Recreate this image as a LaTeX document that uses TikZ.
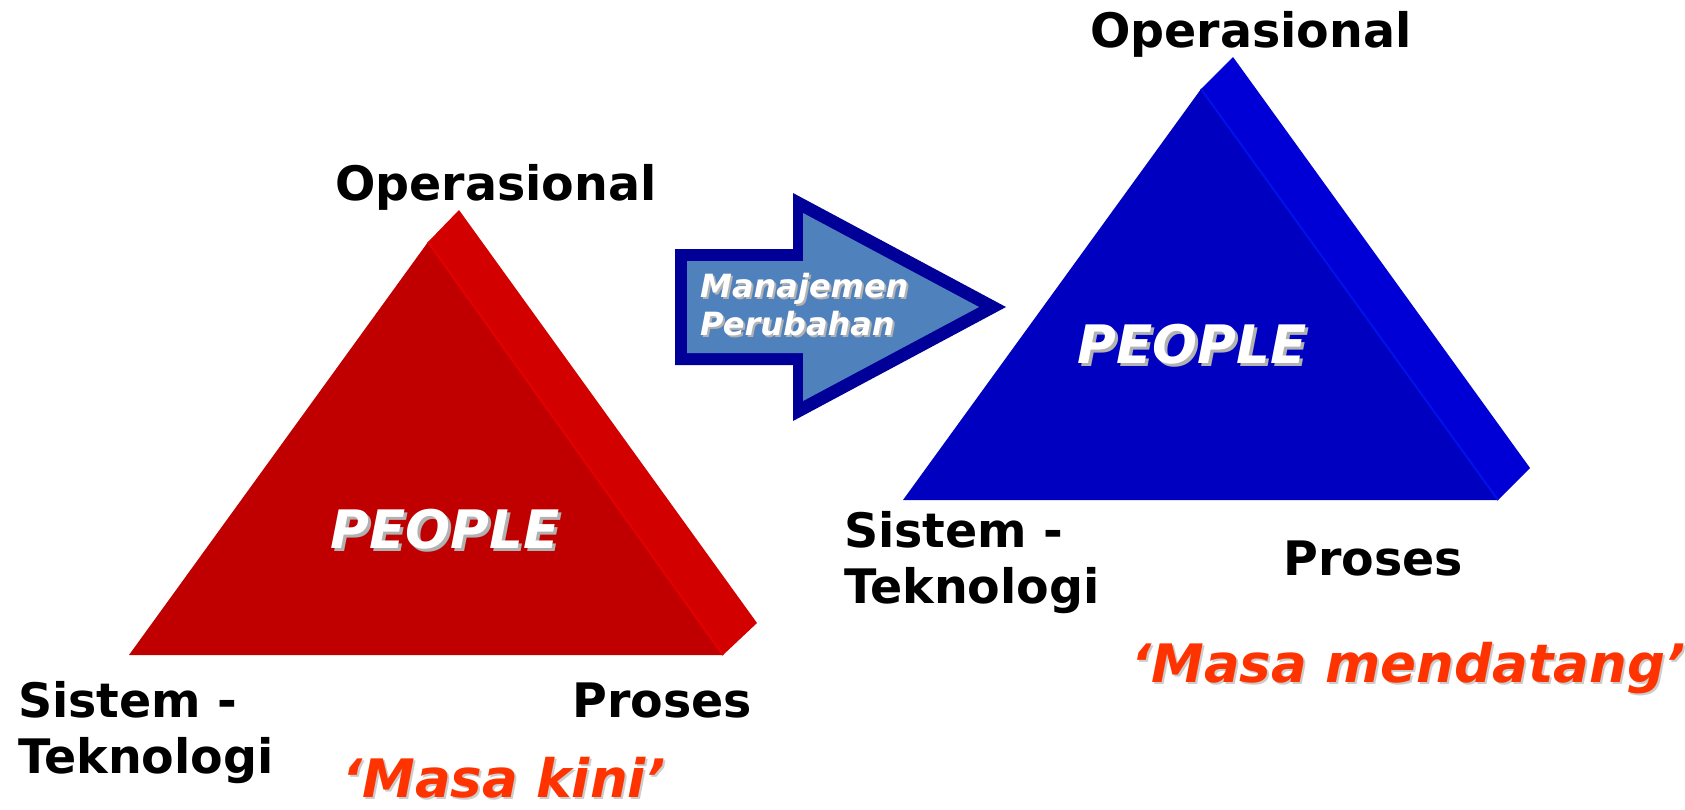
\documentclass[tikz,border=0pt]{standalone}
\usepackage{fontspec}
\setmainfont{DejaVu Sans}
\definecolor{redfront}{HTML}{C00000}
\definecolor{redside}{HTML}{D30000}
\definecolor{redcrease}{HTML}{E40000}
\definecolor{bluefront}{HTML}{0000C0}
\definecolor{blueside}{HTML}{0000D6}
\definecolor{bluecrease}{HTML}{0012E8}
\definecolor{arrowedge}{HTML}{000099}
\definecolor{arrowfill}{HTML}{4F81BD}
\definecolor{masa}{HTML}{FF3300}
\begin{document}
\begin{tikzpicture}[x=1pt, y=-1pt]
	\tikzstyle{label} = [inner sep=0pt, align=left, font=\fontsize{47.5}{56}\selectfont\bfseries]
	\tikzstyle{people} = [inner sep=0pt, font=\fontsize{53}{60}\selectfont\bfseries\itshape]
	\tikzstyle{change} = [inner sep=0pt, align=left, font=\fontsize{32}{38}\selectfont\bfseries\itshape]
	\tikzstyle{era} = [inner sep=0pt, font=\fontsize{53}{60}\selectfont\bfseries\itshape]
	\useasboundingbox (0,0) rectangle (1685,809);
	% left pyramid
	\coordinate (RA) at (428,242);
	\coordinate (RL) at (129,655);
	\coordinate (RR) at (723,655);
	\coordinate (RAb) at (459,210);
	\coordinate (RRb) at (757,623);
	\fill[redside] (RA) -- (RAb) -- (RRb) -- (RR) -- cycle;
	\fill[redfront] (RA) -- (RL) -- (RR) -- cycle;
	\draw[redcrease, line width=2pt] (RA) -- (RR);
	% right pyramid
	\coordinate (BA) at (1201,89);
	\coordinate (BL) at (903,500);
	\coordinate (BR) at (1498,500);
	\coordinate (BAb) at (1233,57);
	\coordinate (BRb) at (1530,468);
	\fill[blueside] (BA) -- (BAb) -- (BRb) -- (BR) -- cycle;
	\fill[bluefront] (BA) -- (BL) -- (BR) -- cycle;
	\draw[bluecrease, line width=2pt] (BA) -- (BR);
	% arrow
	\fill[arrowedge] (675,249) -- (793,249) -- (793,193) -- (1006,307) -- (793,421) -- (793,365) -- (675,365) -- cycle;
	\fill[arrowfill] (687,261) -- (803,261) -- (803,213) -- (979,307) -- (803,401) -- (803,353) -- (687,353) -- cycle;
	\node[change, text=gray!60, anchor=base west](changeS) at (702,337) {Manajemen\\Perubahan};
	\node[change, text=white, anchor=base west](change) at (700,335) {Manajemen\\Perubahan};
	% labels
	\node[people, text=gray!60, anchor=base](peopleLS) at (448,551) {PEOPLE};
	\node[people, text=white, anchor=base](peopleL) at (445,548) {PEOPLE};
	\node[people, text=gray!60, anchor=base](peopleRS) at (1195,366) {PEOPLE};
	\node[people, text=white, anchor=base](peopleR) at (1192,363) {PEOPLE};
	\node[label, anchor=base](opL) at (496,200) {Operasional};
	\node[label, anchor=base](opR) at (1251,47) {Operasional};
	\node[label, anchor=base west](sisL) at (18,773) {Sistem -\\Teknologi};
	\node[label, anchor=base west](sisR) at (844,603) {Sistem -\\Teknologi};
	\node[label, anchor=base west](proL) at (572,717) {Proses};
	\node[label, anchor=base west](proR) at (1283,575) {Proses};
	\node[era, text=gray!40, anchor=base west](kiniS) at (344,799) {‘Masa kini’};
	\node[era, text=masa, anchor=base west](kini) at (342,797) {‘Masa kini’};
	\node[era, text=gray!40, anchor=base west](datangS) at (1133,684) {‘Masa mendatang’};
	\node[era, text=masa, anchor=base west](datang) at (1131,682) {‘Masa mendatang’};
\end{tikzpicture}
\end{document}
